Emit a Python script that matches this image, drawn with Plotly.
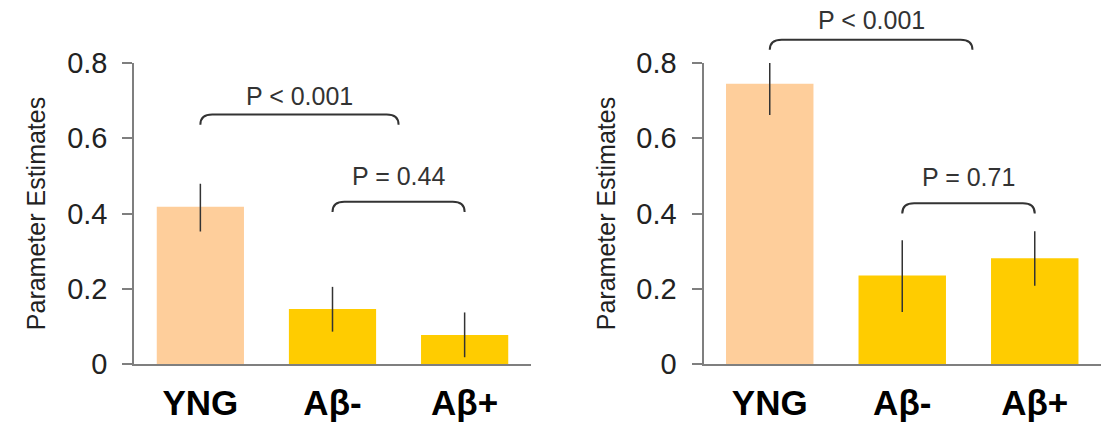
import plotly.graph_objects as go

# ---------------- data ----------------
categories = ["YNG", "Aβ-", "Aβ+"]
bar_colors = ["#FECE9B", "#FFCC00", "#FFCC00"]

left_values = [0.418, 0.146, 0.077]
left_err_hi = [0.061, 0.059, 0.060]
left_err_lo = [0.066, 0.060, 0.059]

right_values = [0.745, 0.235, 0.281]
right_err_hi = [0.062, 0.094, 0.072]
right_err_lo = [0.083, 0.097, 0.073]

y_tickvals = [0, 0.2, 0.4, 0.6, 0.8]
y_ticktext = ["0", "0.2", "0.4", "0.6", "0.8"]
y_title = "Parameter Estimates"

# significance brackets: (x_start, x_end, top, label, label_y)
left_brackets = [(0.0, 1.5, 0.663, "P < 0.001", 0.713),
                 (1.0, 2.0, 0.431, "P = 0.44", 0.499)]
right_brackets = [(0.0, 1.53, 0.862, "P < 0.001", 0.914),
                  (1.0, 2.0, 0.427, "P = 0.71", 0.497)]

# ---------------- styling ----------------
YRANGE = [0, 0.8]
AXIS_GRAY = "#7f7f7f"
FONT = "Liberation Sans, Arial, Helvetica, sans-serif"
W, H = 1114, 425

fig = go.Figure()
xpos = list(range(len(categories)))

for vals, hi, lo, xa, ya in [(left_values, left_err_hi, left_err_lo, "x", "y"),
                             (right_values, right_err_hi, right_err_lo, "x2", "y2")]:
    fig.add_trace(go.Bar(
        x=xpos, y=vals, width=0.66,
        marker=dict(color=bar_colors, line=dict(width=0)),
        error_y=dict(type="data", symmetric=False, array=hi, arrayminus=lo,
                     color="#333333", thickness=1.5, width=0),
        xaxis=xa, yaxis=ya, showlegend=False, hoverinfo="skip"))


def dom(v):
    return (v - YRANGE[0]) / (YRANGE[1] - YRANGE[0])


shapes = []
annotations = []
dx, dy = 0.09, 0.027
for brs, xr, yr in [(left_brackets, "x", "y"), (right_brackets, "x2", "y2")]:
    for (x0, x1, top, label, ly) in brs:
        t = dom(top)
        b = dom(top - dy)
        path = (f"M {x0},{b} Q {x0},{t} {x0 + dx},{t} L {x1 - dx},{t} "
                f"Q {x1},{t} {x1},{b}")
        shapes.append(dict(type="path", path=path, xref=xr, yref=yr + " domain",
                           line=dict(color="#333333", width=2)))
        annotations.append(dict(x=(x0 + x1) / 2, y=dom(ly), xref=xr,
                                yref=yr + " domain", text=label, showarrow=False,
                                xanchor="center", yanchor="middle",
                                font=dict(family=FONT, size=25, color="#333333")))

xaxis_common = dict(range=[-0.5, 2.5], tickvals=xpos, ticktext=categories,
                    showline=True, linecolor=AXIS_GRAY, linewidth=2,
                    ticks="", showgrid=False, zeroline=False,
                    ticklabelstandoff=7,
                    tickfont=dict(family=FONT, size=35, color="#000000",
                                  weight="bold"))
yaxis_common = dict(range=YRANGE, tickvals=y_tickvals, ticktext=y_ticktext,
                    showline=True, linecolor=AXIS_GRAY, linewidth=2,
                    ticks="outside", ticklen=10, tickwidth=2, tickcolor=AXIS_GRAY,
                    showgrid=False, zeroline=False, ticklabelstandoff=9,
                    tickfont=dict(family=FONT, size=29, color="#222222"),
                    title=dict(text=y_title, standoff=14,
                               font=dict(family=FONT, size=25, color="#222222")))

fig.update_layout(
    width=W, height=H,
    margin=dict(l=0, r=0, t=63, b=61, autoexpand=False),
    paper_bgcolor="white", plot_bgcolor="white",
    showlegend=False,
    xaxis=dict(domain=[134.3 / W, 530.7 / W], anchor="y", **xaxis_common),
    yaxis=dict(domain=[0, 1], anchor="x", **yaxis_common),
    xaxis2=dict(domain=[703.5 / W, 1101 / W], anchor="y2", **xaxis_common),
    yaxis2=dict(domain=[0, 1], anchor="x2", **yaxis_common),
    shapes=shapes,
    annotations=annotations,
    bargap=0.34,
)

fig.write_html("out.html",
               config={"displayModeBar": False, "staticPlot": True},
               post_script="document.body.style.margin='0';"
                           "document.body.style.overflow='hidden';")
